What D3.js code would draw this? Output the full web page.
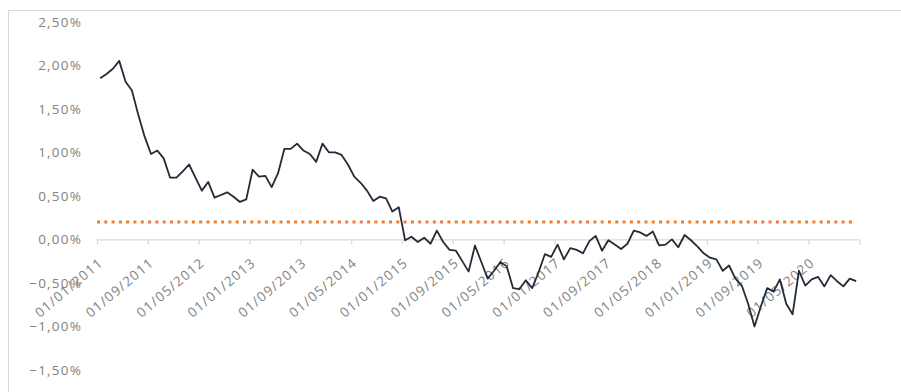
<!DOCTYPE html>
<html>
<head>
<meta charset="utf-8">
<script src="https://cdn.jsdelivr.net/npm/d3@7"></script>
<style>
  html, body { margin: 0; padding: 0; background: #fff; }
  svg { display: block; }
  .lbl { font-family: "Open Sans", sans-serif; font-size: 13.5px; fill: #828282; letter-spacing: 1.2px; }
</style>
</head>
<body>
<svg id="chart" width="901" height="392"></svg>
<script>
// ---- data ----
const startMonth = "2011-01";          // first category (monthly series)
const monthCount = 120;                 // Jan 2011 .. Dec 2020
const seriesValues = [
  1.85, 1.90, 1.96, 2.05, 1.81, 1.71, 1.43, 1.18, 0.98, 1.02,
  0.93, 0.71, 0.71, 0.78, 0.86, 0.71, 0.56, 0.66, 0.48, 0.51,
  0.54, 0.49, 0.43, 0.46, 0.80, 0.72, 0.73, 0.60, 0.76, 1.04,
  1.04, 1.10, 1.02, 0.98, 0.89, 1.10, 1.00, 1.00, 0.97, 0.86,
  0.72, 0.65, 0.56, 0.44, 0.49, 0.47, 0.32, 0.37, -0.01, 0.03,
  -0.03, 0.02, -0.05, 0.10, -0.03, -0.12, -0.13, -0.25, -0.37, -0.07,
  -0.26, -0.45, -0.36, -0.26, -0.31, -0.56, -0.57, -0.47, -0.56, -0.38,
  -0.17, -0.20, -0.06, -0.23, -0.10, -0.12, -0.16, -0.02, 0.04, -0.13,
  -0.01, -0.06, -0.11, -0.05, 0.10, 0.08, 0.04, 0.09, -0.07, -0.06,
  0.00, -0.09, 0.05, -0.01, -0.08, -0.16, -0.21, -0.23, -0.36, -0.30,
  -0.45, -0.53, -0.74, -1.00, -0.77, -0.56, -0.60, -0.46, -0.74, -0.86,
  -0.36, -0.53, -0.46, -0.43, -0.54, -0.41, -0.48, -0.54, -0.45, -0.48
];
const thresholdValue = 0.20;
const xTickLabels = [
  "01/01/2011", "01/09/2011", "01/05/2012", "01/01/2013", "01/09/2013",
  "01/05/2014", "01/01/2015", "01/09/2015", "01/05/2016", "01/01/2017",
  "01/09/2017", "01/05/2018", "01/01/2019", "01/09/2019", "01/05/2020"
];
const tickEvery = 8;
const yTicks = [-1.5, -1.0, -0.5, 0, 0.5, 1.0, 1.5, 2.0, 2.5];

// ---- chart ----
const svg = d3.select("#chart");
const x = d3.scaleLinear().domain([0, monthCount]).range([97, 859.3]);
const y = d3.scaleLinear().domain([-1.5, 2.5]).range([370, 21.7]);

const locale = d3.formatLocale({ decimal: ",", thousands: ".", grouping: [3], currency: ["", "€"] });
const pct = locale.format(".2f");

// chart area border
svg.append("rect")
  .attr("x", 8.5).attr("y", 10.5).attr("width", 1000).attr("height", 1000)
  .attr("fill", "none").attr("stroke", "#d9d9d9").attr("stroke-width", 1);

// y axis (labels only)
const yAxis = svg.append("g")
  .attr("transform", "translate(84,0)")
  .call(d3.axisLeft(y).tickValues(yTicks).tickSize(0).tickPadding(2)
        .tickFormat(d => pct(d) + "%"));
yAxis.select(".domain").remove();
yAxis.selectAll("text").attr("class", "lbl").attr("fill", null)
  .attr("font-family", null).attr("font-size", null);

// x axis at zero line
const tickVals = d3.range(0, monthCount + 1, tickEvery);
const xAxis = svg.append("g")
  .attr("transform", `translate(0,${y(0)})`)
  .call(d3.axisBottom(x).tickValues(tickVals).tickSize(5).tickSizeOuter(0)
        .tickFormat(d => xTickLabels[d / tickEvery] || ""));
xAxis.select(".domain").attr("stroke", "#d9d9d9").attr("stroke-width", 1.3);
xAxis.selectAll(".tick line").attr("stroke", "#d9d9d9").attr("stroke-width", 1.3);
xAxis.selectAll(".tick text")
  .attr("class", "lbl").attr("fill", null)
  .attr("font-family", null).attr("font-size", null)
  .attr("text-anchor", "end")
  .attr("dy", null).attr("y", 0)
  .attr("transform", "translate(6.5,25) rotate(-40)");

// threshold dotted line
svg.append("line")
  .attr("x1", x(0)).attr("x2", x(monthCount) - 3)
  .attr("y1", y(thresholdValue)).attr("y2", y(thresholdValue))
  .attr("stroke", "#ed7d31").attr("stroke-width", 3)
  .attr("stroke-dasharray", "3,4.3");

// main line
const line = d3.line().x((d, i) => x(i + 0.5)).y(d => y(d));
svg.append("path")
  .datum(seriesValues)
  .attr("d", line)
  .attr("fill", "none")
  .attr("stroke", "#232b36")
  .attr("stroke-width", 1.8)
  .attr("stroke-linejoin", "round");
</script>
</body>
</html>
